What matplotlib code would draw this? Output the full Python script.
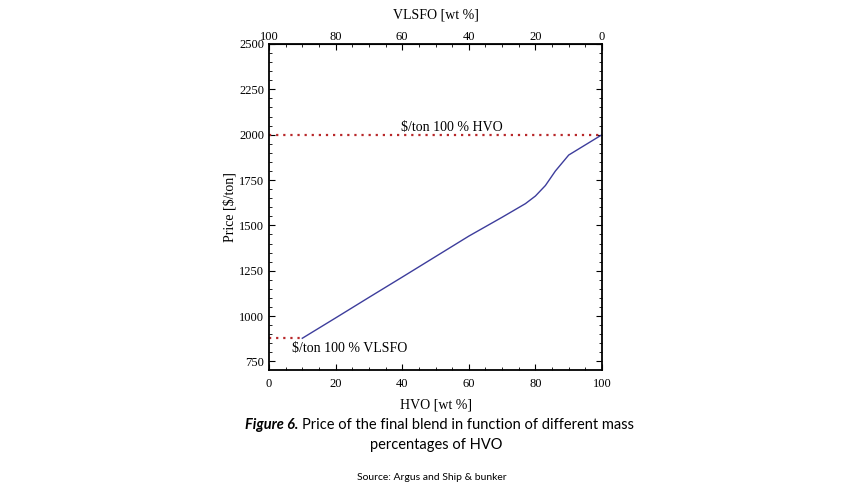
import matplotlib
matplotlib.use("Agg")
import matplotlib.pyplot as plt
from matplotlib.ticker import MultipleLocator

hvo = [10, 20, 30, 40, 50, 60, 70, 77, 80, 83, 86, 90, 100]
price = [878, 990, 1103, 1215, 1328, 1441, 1545, 1620, 1662, 1720, 1800, 1888, 2000]
price_hvo = 2000
price_vlsfo = 878
y_ticks = [750, 1000, 1250, 1500, 1750, 2000, 2250, 2500]
x_ticks = [0, 20, 40, 60, 80, 100]

serif = "Liberation Serif"
fig = plt.figure(figsize=(8.63, 5), dpi=100)
ax = fig.add_axes([0.3117, 0.26, 0.3859, 0.652])

ax.plot(hvo, price, color="#3d3d9c", lw=1.0)
ax.plot([0, 100], [price_hvo, price_hvo], color="#b8282a", lw=1.6, ls=(0, (1, 2.2)))
ax.plot([0, hvo[0]], [price_vlsfo, price_vlsfo], color="#b8282a", lw=1.6, ls=(0, (1, 2.2)))

ax.text(55, price_hvo + 5, "\\$/ton 100 % HVO", ha="center", va="bottom",
        fontsize=10, family=serif)
ax.text(7, 823, "\\$/ton 100 % VLSFO", ha="left", va="center",
        fontsize=10, family=serif)

ax.set_xlim(0, 100)
ax.set_ylim(703, 2500)
ax.set_xticks(x_ticks)
ax.set_yticks(y_ticks)
ax.xaxis.set_minor_locator(MultipleLocator(5))
ax.yaxis.set_minor_locator(MultipleLocator(50))
ax.tick_params(which="both", direction="in", top=False, right=True,
               labelsize=9)
ax.tick_params(which="major", length=4, width=0.8)
ax.tick_params(which="minor", length=2, width=0.6)
ax.tick_params(axis="x", pad=6)
for lab in ax.get_xticklabels() + ax.get_yticklabels():
    lab.set_family(serif)
for s in ax.spines.values():
    s.set_linewidth(1.3)

ax.set_xlabel("HVO [wt %]", fontsize=10, family=serif, labelpad=6)
ax.set_ylabel("Price [\\$/ton]", fontsize=10, family=serif, labelpad=2)

top = ax.secondary_xaxis("top", functions=(lambda x: 100 - x, lambda x: 100 - x))
top.set_xticks(x_ticks)
top.xaxis.set_minor_locator(MultipleLocator(5))
top.tick_params(which="both", direction="in", labelsize=9, pad=1)
top.tick_params(which="major", length=4, width=0.8)
top.tick_params(which="minor", length=2, width=0.6)
for lab in top.get_xticklabels():
    lab.set_family(serif)
top.set_xlabel("VLSFO [wt %]", fontsize=10, family=serif, labelpad=9)

t1 = fig.text(0.284, 0.15, "Figure 6.", fontsize=10.5, family="Lato",
              fontweight="bold", fontstyle="italic", ha="left", va="center")
fig.canvas.draw()
bb = t1.get_window_extent()
x_after = bb.x1 / fig.bbox.width
fig.text(x_after + 0.004, 0.15, "Price of the final blend in function of different mass",
         fontsize=10.5, family="Lato", ha="left", va="center")
fig.text(0.505, 0.11, "percentages of HVO", fontsize=10.5, family="Lato",
         ha="center", va="center")
fig.text(0.5, 0.044, "Source: Argus and Ship & bunker", fontsize=7.5, family="Lato",
         ha="center", va="center")

fig.savefig("out.png", dpi=100)
